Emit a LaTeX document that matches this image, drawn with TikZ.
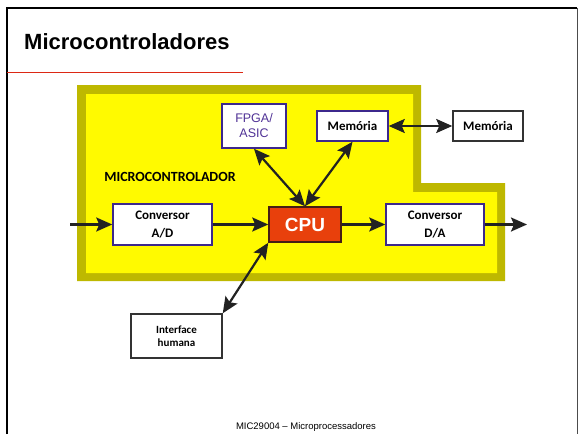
\documentclass[tikz,border=0pt]{standalone}
\usepackage{fontspec}
\setmainfont{Liberation Sans}
\newfontfamily\calib{Carlito}
\usetikzlibrary{arrows.meta}
\definecolor{olivebd}{RGB}{190,184,0}
\definecolor{yel}{RGB}{255,250,0}
\definecolor{purp}{RGB}{60,40,140}
\definecolor{purptext}{RGB}{80,50,150}
\definecolor{cpuf}{RGB}{232,64,12}
\definecolor{cpub}{RGB}{70,30,20}
\definecolor{arr}{RGB}{34,34,34}
\definecolor{redline}{RGB}{220,40,20}
\tikzset{
  inbox/.style={draw=purp, line width=1.5pt, fill=white, inner sep=0pt, align=center},
  outbox/.style={draw=black!80, line width=1.5pt, fill=white, inner sep=0pt, align=center},
  conn/.style={draw=arr, line width=2.2pt, -{Stealth[length=16pt,width=14pt,inset=3pt]}},
  biconn/.style={draw=arr, line width=2.2pt, {Stealth[length=16pt,width=14pt,inset=3pt]}-{Stealth[length=16pt,width=14pt,inset=3pt]}},
  cal/.style={font=\calib\bfseries\fontsize{13}{18}\selectfont}
}
\begin{document}
\begin{tikzpicture}[x=1pt,y=-1pt]
\useasboundingbox (0,0) rectangle (580,434);
\fill[white] (0,0) rectangle (580,434);
% slide frame
\draw[black, line width=2.5pt] (7,434) -- (7,8) -- (577,8);
\draw[black!70, line width=1pt] (577,8) -- (577,434);
% title
\node[anchor=base west, inner sep=0pt, font=\bfseries\fontsize{22}{26}\selectfont] (title) at (24,49) {Microcontroladores};
\draw[redline, line width=1pt] (7,72) -- (243,72);
% microcontroller area
\fill[olivebd] (77,85) -- (421,85) -- (421,183) -- (505,183) -- (505,281) -- (77,281) -- cycle;
\fill[yel] (86,94) -- (413,94) -- (413,192) -- (497,192) -- (497,273) -- (86,273) -- cycle;
\node[cal, font=\calib\bfseries\fontsize{14}{18}\selectfont, inner sep=0pt] (mclabel) at (170,177) {MICROCONTROLADOR};
% nodes
\node[inbox, minimum width=64pt, minimum height=44pt, text=purptext, font=\fontsize{12.5}{15}\selectfont] (fpga) at (254,126) {FPGA/\\ASIC};
\node[inbox, cal, minimum width=71pt, minimum height=30pt] (mem1) at (352.5,126) {Memória};
\node[outbox, cal, minimum width=70pt, minimum height=30pt] (mem2) at (488,126) {Memória};
\node[inbox, cal, minimum width=99pt, minimum height=41pt] (ad) at (162.5,224.5) {Conversor\\A/D};
\node[draw=cpub, line width=1.5pt, fill=cpuf, text=white, inner sep=0pt, minimum width=72pt, minimum height=35pt, font=\bfseries\fontsize{19}{22}\selectfont] (cpu) at (305,224.5) {CPU};
\node[inbox, cal, minimum width=98pt, minimum height=41pt] (da) at (435,224.5) {Conversor\\D/A};
\node[outbox, minimum width=91pt, minimum height=44pt, font=\calib\bfseries\fontsize{11}{13}\selectfont] (hmi) at (176.5,336) {Interface\\humana};
\coordinate (in) at (70,224.5);
\coordinate (out) at (527,224.5);
% connectors
\draw[conn] (in) -- (ad.west);
\draw[conn] (ad.east) -- (cpu.west);
\draw[conn] (cpu.east) -- (da.west);
\draw[conn] (da.east) -- (out);
\draw[biconn] (fpga.south) -- (cpu.north);
\draw[biconn] (mem1.south) -- (cpu.north);
\draw[biconn] (mem1.east) -- (mem2.west);
\draw[biconn] (hmi.north east) -- (cpu.south west);
% footer
\node[inner sep=0pt, font=\fontsize{9.5}{11}\selectfont] (footer) at (306,427) {MIC29004 – Microprocessadores};
\end{tikzpicture}
\end{document}
